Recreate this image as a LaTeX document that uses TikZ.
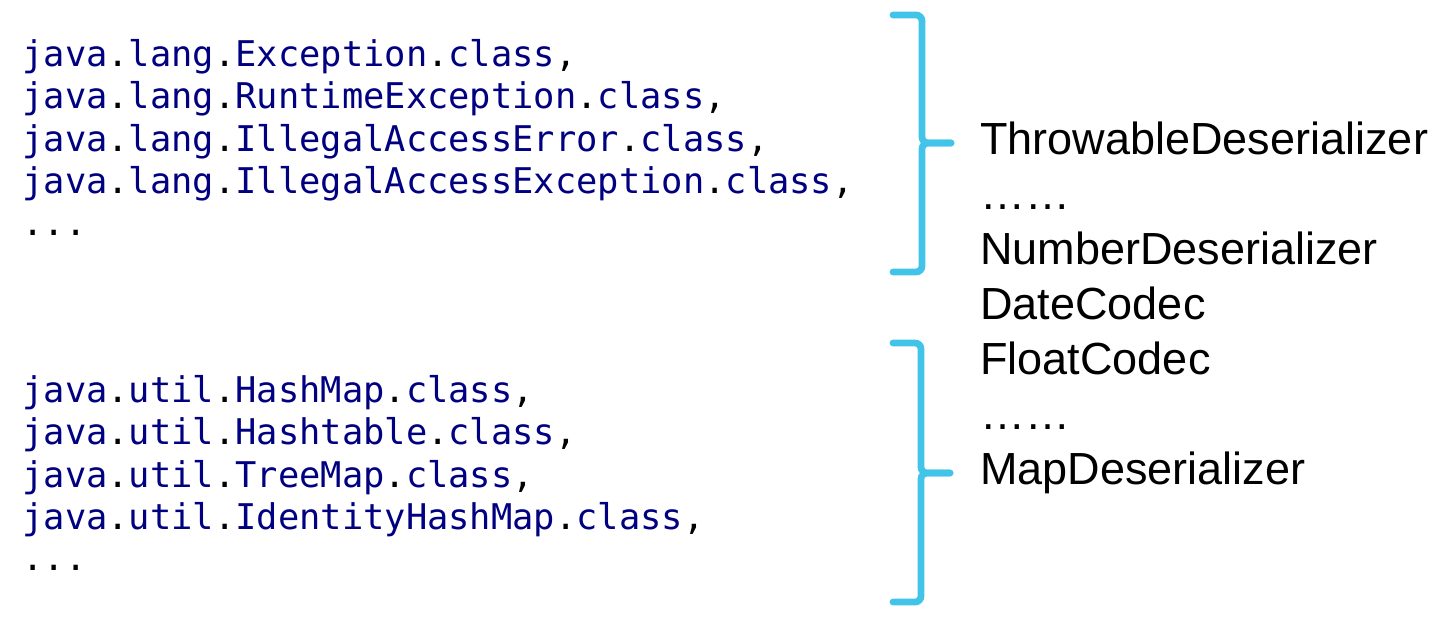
\documentclass[tikz,border=0pt]{standalone}
\usepackage{fontspec}
\setmainfont{Liberation Sans}
\setmonofont{DejaVu Sans Mono}
\usepackage{xcolor}
\usetikzlibrary{calc}
\def\bracewidth{3.4pt}
\definecolor{codeblue}{rgb}{0,0,0.5}
\definecolor{bracecyan}{rgb}{0.26,0.77,0.91}
\def\javaclass#1#2{\textcolor{codeblue}{java}.\textcolor{codeblue}{#1}.\textcolor{codeblue}{#2}.\textcolor{codeblue}{class},}

\begin{document}
\begin{tikzpicture}[x = 0.5pt, y = -0.5pt,
    code/.style={anchor=base west, inner sep=0pt, font=\ttfamily\fontsize{17.7}{21}\selectfont},
    codec/.style={anchor=base west, inner sep=0pt, font=\fontsize{22.5}{27}\selectfont},
    brace/.style={line width=\bracewidth, color=bracecyan, rounded corners=3pt, line cap=round}]
        \useasboundingbox (0,0) rectangle (1455,623);

            \node [code] (1) at (22,66) {\javaclass{lang}{Exception}};
            \node [code] (2) at ($(1.base west) + (0,42.5)$) {\javaclass{lang}{RuntimeException}};
            \node [code] (3) at ($(2.base west) + (0,42.5)$) {\javaclass{lang}{IllegalAccessError}};
            \node [code] (4) at ($(3.base west) + (0,42.5)$) {\javaclass{lang}{IllegalAccessException}};
            \node [code] (5) at ($(4.base west) + (0,41.5)$) {...};

            \node [code] (6) at (22,402) {\javaclass{util}{HashMap}};
            \node [code] (7) at ($(6.base west) + (0,42.5)$) {\javaclass{util}{Hashtable}};
            \node [code] (8) at ($(7.base west) + (0,42.5)$) {\javaclass{util}{TreeMap}};
            \node [code] (9) at ($(8.base west) + (0,42.5)$) {\javaclass{util}{IdentityHashMap}};
            \node [code] (10) at ($(9.base west) + (0,40.5)$) {...};

            \node [codec] (throwable) at (980,154) {ThrowableDeserializer};
            \node [codec] (dots1) at ($(throwable.base west) + (0,55)$) {……};
            \node [codec] (number) at ($(dots1.base west) + (0,55)$) {NumberDeserializer};
            \node [codec] (date) at ($(number.base west) + (0,55)$) {DateCodec};
            \node [codec] (float) at ($(date.base west) + (0,55)$) {FloatCodec};
            \node [codec] (dots2) at ($(float.base west) + (0,55)$) {……};
            \node [codec] (map) at ($(dots2.base west) + (0,55)$) {MapDeserializer};

        % upper brace
        \coordinate (b1top) at (893,15);
        \coordinate (b1mid) at (922,143);
        \coordinate (b1tip) at (951,143);
        \coordinate (b1bot) at (893,272);
        \draw [brace] (b1top) -| (b1mid) -- (b1tip);
        \draw [brace] (b1tip) -- (b1mid) |- (b1bot);

        % lower brace
        \coordinate (b2top) at (893,343);
        \coordinate (b2mid) at (921,473);
        \coordinate (b2tip) at (950,473);
        \coordinate (b2bot) at (893,602);
        \draw [brace] (b2top) -| (b2mid) -- (b2tip);
        \draw [brace] (b2tip) -- (b2mid) |- (b2bot);

        \end{tikzpicture}
\end{document}
